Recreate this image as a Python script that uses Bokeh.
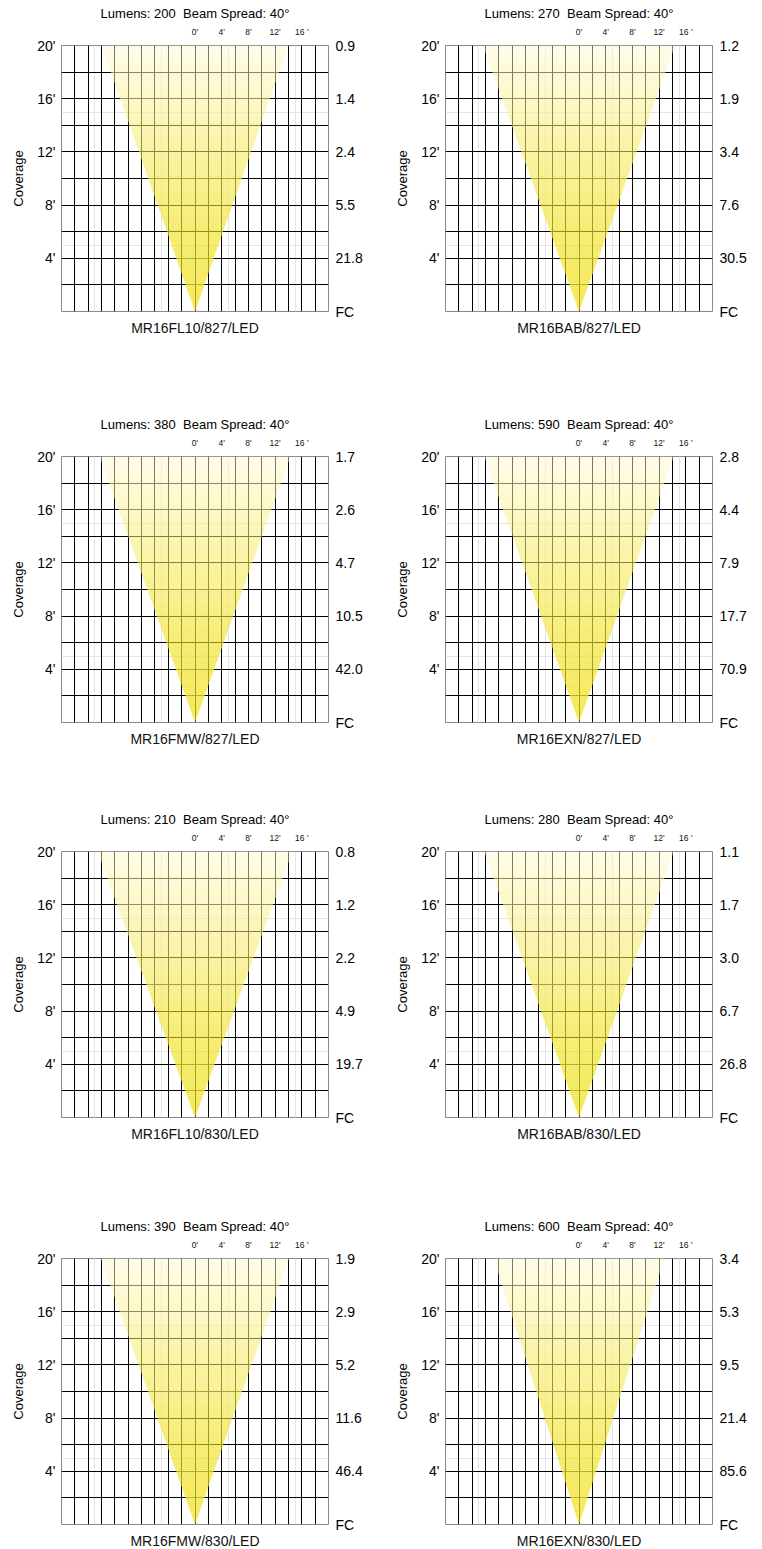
from bokeh.plotting import figure
from bokeh.layouts import column, row
from bokeh.models import FixedTicker, LinearAxis, Range1d, ColumnDataSource, Grid
from bokeh.embed import file_html
from bokeh.resources import INLINE

# ---------------- data ----------------
models = ["MR16FL10/827/LED", "MR16BAB/827/LED", "MR16FMW/827/LED", "MR16EXN/827/LED",
          "MR16FL10/830/LED", "MR16BAB/830/LED", "MR16FMW/830/LED", "MR16EXN/830/LED"]
lumens = [200, 270, 380, 590, 210, 280, 390, 600]
beam_spread_deg = [40, 40, 40, 40, 40, 40, 40, 40]
# footcandles at coverage distances 20', 16', 12', 8', 4'
fc_distances = [20, 16, 12, 8, 4]
fc_values = [
    ["0.9", "1.4", "2.4", "5.5", "21.8"],
    ["1.2", "1.9", "3.4", "7.6", "30.5"],
    ["1.7", "2.6", "4.7", "10.5", "42.0"],
    ["2.8", "4.4", "7.9", "17.7", "70.9"],
    ["0.8", "1.2", "2.2", "4.9", "19.7"],
    ["1.1", "1.7", "3.0", "6.7", "26.8"],
    ["1.9", "2.9", "5.2", "11.6", "46.4"],
    ["3.4", "5.3", "9.5", "21.4", "85.6"],
]
# beam half-width (chart units) at the 20' line
beam_half_width = [14.0, 14.4, 14.3, 14.2, 14.6, 14.2, 14.1, 12.8]
coverage_ticks = [4, 8, 12, 16, 20]
coverage_labels = ["4'", "8'", "12'", "16'", "20'"]
spread_ticks = [0, 4, 8, 12, 16]
spread_labels = ["0'", "4'", "8'", "12'", "16 '"]

FONT = "Liberation Sans"
ROW_BOTTOM_BORDERS = [100, 84, 96, 25]
TOP_B = 45
FRAME_W = 267
FRAME_H = 266


def lerp(a, b, t):
    return a + (b - a) * t


def beam_source(hw, n=133):
    xs, ys, colors, alphas = [], [], [], []
    c0 = (240, 225, 30)
    c1 = (255, 250, 212)
    for k in range(n):
        y0 = 20.0 * k / n
        y1 = 20.0 * (k + 1) / n
        t = ((y0 + y1) / 2) / 20.0
        m = t ** 1.7
        c = tuple(int(round(lerp(c0[j], c1[j], m))) for j in range(3))
        colors.append("#%02x%02x%02x" % c)
        alphas.append(lerp(0.78, 0.5, m))
        xs.append([-hw * y0 / 20, hw * y0 / 20, hw * y1 / 20, -hw * y1 / 20])
        ys.append([y0, y0, y1, y1])
    return ColumnDataSource(dict(xs=xs, ys=ys, color=colors, alpha=alphas))


def axis_common():
    return dict(axis_line_color=None, major_tick_line_color=None, minor_tick_line_color=None,
                major_tick_out=0, major_tick_in=0, minor_tick_out=0, minor_tick_in=0,
                major_label_text_font=FONT)


def make_panel(i, col, bottom_border):
    bl, br = (61, 53) if col == 0 else (64, 50)
    p = figure(frame_width=FRAME_W, frame_height=FRAME_H,
               x_range=Range1d(-20, 20), y_range=Range1d(0, 20),
               output_backend="svg", toolbar_location=None, tools="",
               x_axis_location=None, y_axis_location=None,
               min_border_left=bl, min_border_right=br,
               min_border_top=TOP_B, min_border_bottom=bottom_border,
               title="Lumens: %d\u00a0 Beam Spread: %d\u00b0" % (lumens[i], beam_spread_deg[i]),
               title_location="above")
    p.title.align = "center"
    p.title.text_font = FONT
    p.title.text_font_size = "13px"
    p.title.text_font_style = "normal"
    p.title.text_color = "black"
    p.title.offset = 4
    p.title.standoff = 6
    p.outline_line_color = "#8a8a8a"
    p.outline_line_width = 1
    p.background_fill_color = "white"
    p.border_fill_color = "white"

    p.add_layout(Grid(dimension=0, ticker=FixedTicker(ticks=list(range(-18, 19, 2))),
                      grid_line_color="black", grid_line_width=1))
    p.add_layout(Grid(dimension=1, ticker=FixedTicker(ticks=list(range(2, 21, 2))),
                      grid_line_color="black", grid_line_width=1))

    p.patches("xs", "ys", source=beam_source(beam_half_width[i]), fill_color="color",
              fill_alpha="alpha", line_color=None)

    # left axis: coverage
    left = LinearAxis(ticker=FixedTicker(ticks=coverage_ticks),
                      major_label_overrides={t: l for t, l in zip(coverage_ticks, coverage_labels)},
                      major_label_text_font_size="14px", major_label_text_color="black",
                      major_label_standoff=6,
                      axis_label="Coverage", axis_label_text_font=FONT,
                      axis_label_text_font_size="13px", axis_label_text_font_style="normal",
                      axis_label_text_color="black", axis_label_standoff=8, **axis_common())
    p.add_layout(left, "left")

    # right axis: footcandles
    rticks = fc_distances + [0]
    rlabels = fc_values[i] + ["FC"]
    right = LinearAxis(ticker=FixedTicker(ticks=rticks),
                       major_label_overrides={t: l for t, l in zip(rticks, rlabels)},
                       major_label_text_font_size="14px", major_label_text_color="black",
                       major_label_standoff=7, **axis_common())
    p.add_layout(right, "right")

    # top axis: spread distances
    top = LinearAxis(ticker=FixedTicker(ticks=spread_ticks),
                     major_label_overrides={t: l for t, l in zip(spread_ticks, spread_labels)},
                     major_label_text_font_size="8.5px", major_label_text_color="#111111",
                     major_label_standoff=9, **axis_common())
    p.add_layout(top, "above")

    # bottom axis: model name
    bottom = LinearAxis(ticker=FixedTicker(ticks=[]),
                        axis_label=models[i], axis_label_text_font=FONT,
                        axis_label_text_font_size="14px", axis_label_text_font_style="normal",
                        axis_label_text_color="#111111", axis_label_standoff=8, **axis_common())
    p.add_layout(bottom, "below")
    return p


rows = []
for r in range(4):
    panels = [make_panel(2 * r + c, c, ROW_BOTTOM_BORDERS[r]) for c in range(2)]
    rows.append(row(*panels, spacing=0))
layout = column(*rows, spacing=0)

open("out.html", "w").write(file_html(layout, INLINE))
